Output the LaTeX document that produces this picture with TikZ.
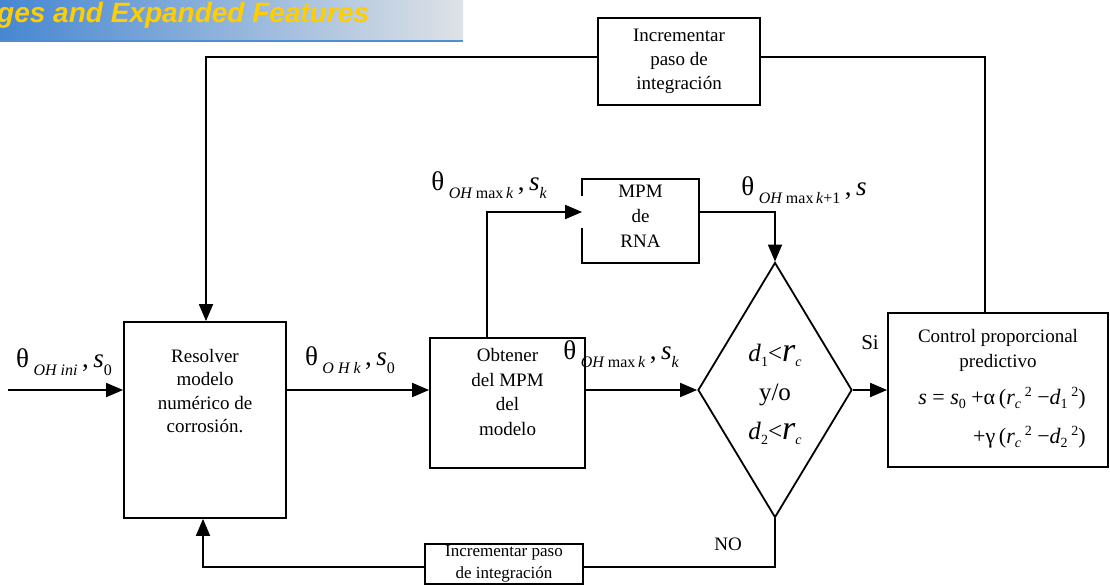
\documentclass[tikz,border=0pt]{standalone}
\usepackage{fontspec}
\setmainfont{Liberation Serif}
\newfontfamily\hdrfont{Liberation Sans}
\usetikzlibrary{arrows.meta,shapes.geometric}
\definecolor{hdrblue}{RGB}{70,135,210}
\definecolor{hdrgray}{RGB}{222,226,230}
\definecolor{hdrline}{RGB}{85,140,205}
\definecolor{hdrtext}{RGB}{255,205,0}
\newcommand\lsub[1]{\raisebox{-0.6ex}{\fontsize{16}{17}\selectfont\itshape #1}}
\newcommand\esub[1]{\raisebox{-0.45ex}{\fontsize{14}{15}\selectfont #1}}
\newcommand\esup[1]{\raisebox{0.8ex}{\fontsize{14}{15}\selectfont #1}}
\newcommand\myrbig{{\fontsize{34}{34}\selectfont\itshape r}}
\begin{document}
\begin{tikzpicture}[x=1pt,y=-1pt,
  box/.style={draw,line width=1.8pt,fill=white,align=center,inner sep=0pt,font=\fontsize{19}{24}\selectfont},
  wire/.style={line width=1.8pt},
  arr/.style={line width=1.8pt,-{Triangle[length=17pt,width=14pt]}},
  lbl/.style={font=\fontsize{27}{28}\selectfont,inner sep=0pt}]
\useasboundingbox (0,0) rectangle (1110,584);
% header banner
\shade[left color=hdrblue,right color=hdrgray] (0,0) rectangle (463,40);
\fill[hdrline] (0,39.5) rectangle (463,42);
\begin{scope}
\clip (0,0) rectangle (463,40);
\node[anchor=base west,inner sep=0pt,text=hdrtext,font=\hdrfont\bfseries\itshape\fontsize{28}{30}\selectfont] (hdr) at (-3,22) {ges and Expanded Features};
\end{scope}
% boxes
\node[box,minimum width=162pt,minimum height=87pt] (inc1) at (679,61.5) {Incrementar\\paso de\\integración};
\node[box,minimum width=162pt,minimum height=196pt] (res) at (205,420) {};
\node[align=center,font=\fontsize{19}{23.5}\selectfont] (restxt) at (205,391) {Resolver\\modelo\\numérico de\\corrosión.};
\node[box,minimum width=155pt,minimum height=130pt] (obt) at (507.5,403) {};
\node[align=center,font=\fontsize{19}{24.5}\selectfont] (obttxt) at (507.5,392) {Obtener\\del MPM\\del\\modelo};
\node[box,minimum width=115pt,minimum height=82pt,draw=none] (mpm) at (640.5,221) {};
\draw[wire] (mpm.south west) ++(0,-35) -- (mpm.south west) -- (mpm.south east) -- (mpm.north east) -- (mpm.north west) -- ++(0,17);
\node[align=center,font=\fontsize{19}{25}\selectfont] (mpmtxt) at (640.5,216) {MPM\\de\\RNA};
\node[draw,line width=1.8pt,fill=white,diamond,minimum width=154pt,minimum height=255pt,inner sep=0pt] (dia) at (775,390) {};
\node[align=center,font=\fontsize{25}{39}\selectfont] (diatxt) at (775,394) {\textit{d}\esub{1}<\myrbig\esub{\itshape c}\\y/o\\\textit{d}\esub{2}<\myrbig\esub{\itshape c}};
\node[box,minimum width=220pt,minimum height=154pt] (ctl) at (998,390) {};
\node[align=center,font=\fontsize{19}{25}\selectfont] (ctltxt1) at (998,350) {Control proporcional\\predictivo};
\node[font=\fontsize{22}{24}\selectfont,inner sep=0pt] (eq1) at (1002,398) {\textit{s} = \textit{s}\esub{0} +α\,(\textit{r}\esub{\itshape c}\,\esup{2} −\textit{d}\esub{1}\,\esup{2})};
\node[font=\fontsize{22}{24}\selectfont,inner sep=0pt,anchor=east] (eq2) at (eq1.east|-0,437) {+γ\,(\textit{r}\esub{\itshape c}\,\esup{2} −\textit{d}\esub{2}\,\esup{2})};
\node[box,minimum width=158pt,minimum height=40pt,font=\fontsize{17}{22}\selectfont] (inc2) at (504,564) {Incrementar paso\\de integración};
% connectors
\coordinate (in0) at (8,390);
\draw[arr] (in0) -- (res.west|-in0);
\draw[arr] (res.east|-in0) -- (obt.west|-in0);
\draw[arr] (obt.east|-dia.west) -- (dia.west);
\draw[arr] (dia.east) -- (ctl.west|-dia.east);
\coordinate (c1) at (487,212);
\draw[arr] (obt.north-|c1) -- (c1) -- (mpm.west|-c1);
\coordinate (c2) at (775,212);
\draw[arr] (mpm.east|-c2) -- (c2) -- (dia.north);
\coordinate (c3) at (985,57);
\draw[wire] (ctl.north-|c3) -- (c3) -- (inc1.east|-c3);
\coordinate (c4) at (206,57);
\draw[arr] (inc1.west|-c4) -- (c4) -- (res.north-|c4);
\coordinate (c5) at (775,567);
\draw[wire] (dia.south) -- (c5) -- (inc2.east|-c5);
\coordinate (c6) at (203,567);
\draw[arr] (inc2.west|-c6) -- (c6) -- (res.south-|c6);
% labels
\node[lbl] (l1) at (64,362) {θ\,\lsub{OH ini}\,,\,\textit{s}\lsub{\upshape 0}};
\node[lbl] (l2) at (350,360) {θ\,\lsub{O H k}\,,\,\textit{s}\lsub{\upshape 0}};
\node[lbl] (l3) at (489,185) {θ\,\lsub{OH \upshape max\,\itshape k}\,,\,\textit{s}\lsub{k}};
\node[lbl] (l4) at (621,354) {θ\,\lsub{OH \upshape max\,\itshape k}\,,\,\textit{s}\lsub{k}};
\node[lbl] (l5) at (804,190) {θ\,\lsub{OH \upshape max\,\itshape k\upshape +1}\,,\,\textit{s}};
\node[font=\fontsize{21}{22}\selectfont,inner sep=0pt] (si) at (870,343) {Si};
\node[font=\fontsize{19}{20}\selectfont,inner sep=0pt] (no) at (728,544) {NO};
\end{tikzpicture}
\end{document}
